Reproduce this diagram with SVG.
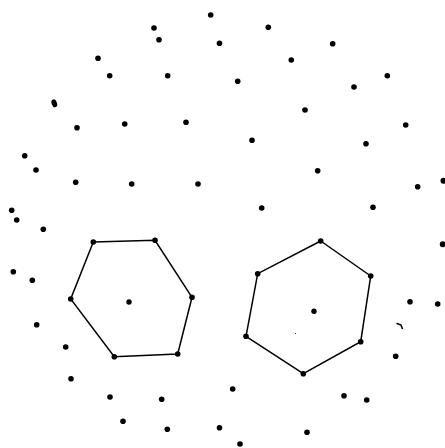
<svg xmlns="http://www.w3.org/2000/svg" width="445" height="448" viewBox="0 0 445 448">
<style>
.d{fill:#000}
.e{fill:none;stroke:#000;stroke-width:1.5;stroke-linecap:round}
</style>
<rect width="445" height="448" fill="#fff"/>
<g id="connectors">
<polygon class="e" points="93.3,242 155,240.3 192,297.3 177.7,354 114.3,356.7 70.7,299"/>
<polygon class="e" points="320.7,241 370.7,276 360.7,341.7 303.3,373.7 246,336.3 257.7,273.7"/>
</g>
<g id="hex-left">
<circle class="d" cx="93.3" cy="242" r="2.8"/>
<circle class="d" cx="155" cy="240.3" r="2.8"/>
<circle class="d" cx="192" cy="297.3" r="2.8"/>
<circle class="d" cx="177.7" cy="354" r="2.8"/>
<circle class="d" cx="114.3" cy="356.7" r="2.8"/>
<circle class="d" cx="70.7" cy="299" r="2.8"/>
<circle class="d" cx="129" cy="302" r="2.7"/>
</g>
<g id="hex-right">
<circle class="d" cx="320.7" cy="241" r="2.8"/>
<circle class="d" cx="370.7" cy="276" r="2.8"/>
<circle class="d" cx="360.7" cy="341.7" r="2.8"/>
<circle class="d" cx="303.3" cy="373.7" r="2.8"/>
<circle class="d" cx="246" cy="336.3" r="2.8"/>
<circle class="d" cx="257.7" cy="273.7" r="2.8"/>
<circle class="d" cx="314" cy="311.3" r="2.7"/>
</g>
<g id="scatter">
<circle class="d" cx="210.7" cy="15" r="2.8"/>
<circle class="d" cx="154" cy="28" r="2.8"/>
<circle class="d" cx="159" cy="39.7" r="2.8"/>
<circle class="d" cx="219.5" cy="43.3" r="2.8"/>
<circle class="d" cx="98" cy="58.3" r="2.8"/>
<circle class="d" cx="109.7" cy="75.7" r="2.8"/>
<circle class="d" cx="167.7" cy="75.7" r="2.8"/>
<ellipse class="d" cx="54.3" cy="103.3" rx="2.7" ry="4" transform="rotate(-20 54.3 103.3)"/>
<circle class="d" cx="77" cy="127.7" r="2.8"/>
<circle class="d" cx="124.7" cy="124" r="2.8"/>
<circle class="d" cx="186" cy="122.3" r="2.8"/>
<circle class="d" cx="24.7" cy="155.7" r="2.8"/>
<circle class="d" cx="36" cy="170" r="2.8"/>
<circle class="d" cx="75.7" cy="182.3" r="2.8"/>
<circle class="d" cx="131.7" cy="184" r="2.8"/>
<circle class="d" cx="198" cy="184" r="2.8"/>
<circle class="d" cx="11.7" cy="210.3" r="2.8"/>
<circle class="d" cx="16.7" cy="220" r="2.8"/>
<circle class="d" cx="268.3" cy="27.3" r="2.8"/>
<circle class="d" cx="332.7" cy="43.7" r="2.8"/>
<circle class="d" cx="291.3" cy="60" r="2.8"/>
<circle class="d" cx="237.7" cy="81.3" r="2.8"/>
<circle class="d" cx="354" cy="87" r="2.8"/>
<circle class="d" cx="387.3" cy="75.7" r="2.8"/>
<circle class="d" cx="305" cy="110" r="2.8"/>
<circle class="d" cx="405.7" cy="125" r="2.8"/>
<circle class="d" cx="252" cy="140.3" r="2.8"/>
<circle class="d" cx="366" cy="143.7" r="2.8"/>
<circle class="d" cx="317.7" cy="170.7" r="2.8"/>
<circle class="d" cx="417.7" cy="186.7" r="2.8"/>
<circle class="d" cx="443.5" cy="180.7" r="3"/>
<circle class="d" cx="261.7" cy="208" r="2.8"/>
<circle class="d" cx="373" cy="207.3" r="2.8"/>
<circle class="d" cx="43.3" cy="229.3" r="2.8"/>
<circle class="d" cx="13.3" cy="271.7" r="2.8"/>
<circle class="d" cx="32.3" cy="280.3" r="2.8"/>
<circle class="d" cx="36.7" cy="324.7" r="2.8"/>
<circle class="d" cx="65.7" cy="347" r="2.8"/>
<circle class="d" cx="71" cy="378.7" r="2.8"/>
<circle class="d" cx="110" cy="397" r="2.8"/>
<circle class="d" cx="161.7" cy="399.3" r="2.8"/>
<circle class="d" cx="123" cy="421.3" r="2.8"/>
<circle class="d" cx="167.3" cy="429.3" r="2.8"/>
<circle class="d" cx="219.5" cy="427.7" r="2.8"/>
<circle class="d" cx="442.8" cy="244.3" r="3"/>
<circle class="d" cx="410" cy="301.7" r="2.8"/>
<circle class="d" cx="437.7" cy="304" r="2.8"/>
<circle class="d" cx="395.7" cy="356.3" r="2.8"/>
<circle class="d" cx="232.7" cy="389" r="2.8"/>
<circle class="d" cx="344" cy="395.7" r="2.8"/>
<circle class="d" cx="366.7" cy="400" r="2.8"/>
<circle class="d" cx="307" cy="432.3" r="2.8"/>
<circle class="d" cx="240" cy="444" r="2.8"/>
<path d="M396.5,323.3 L401,325 L402.5,329" fill="none" stroke="#000" stroke-width="1.6"/>
<rect x="295" y="333" width="1" height="1" fill="#333"/>
</g>
</svg>
